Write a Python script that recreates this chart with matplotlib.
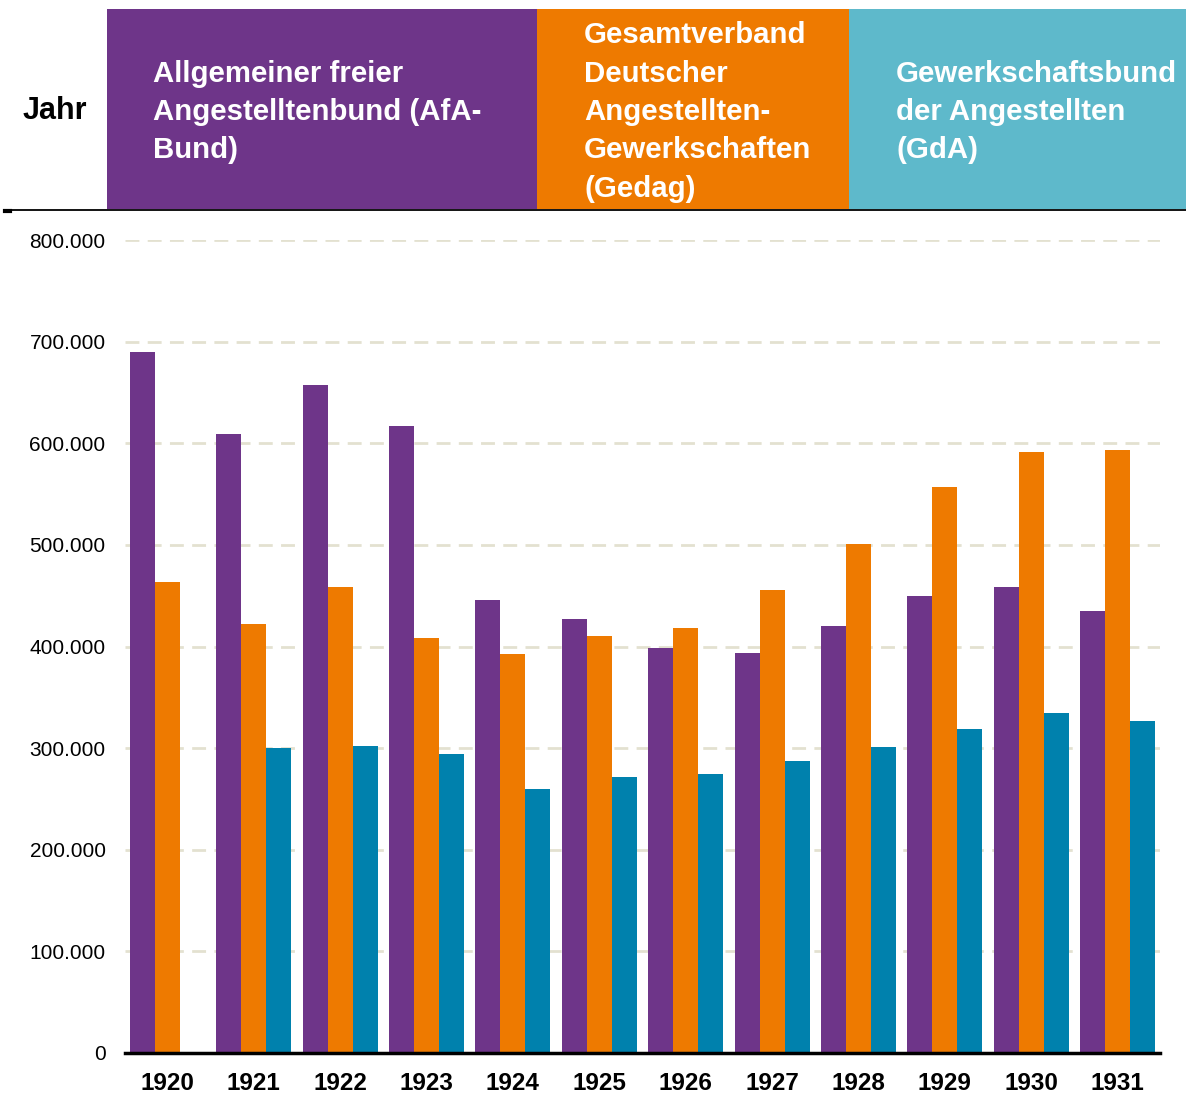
import matplotlib.pyplot as plt
import numpy as np
from matplotlib.patches import Rectangle
from matplotlib.ticker import FuncFormatter

plt.rcParams['font.family'] = ['Liberation Sans', 'DejaVu Sans']

# Mitgliederzahlen der Angestelltenverbände
jahre = ['1920', '1921', '1922', '1923', '1924', '1925', '1926', '1927', '1928', '1929', '1930', '1931']
afa = [690000, 609000, 657000, 617000, 446000, 427000, 399000, 394000, 420000, 450000, 459000, 435000]
gedag = [463000, 422000, 459000, 408000, 393000, 410000, 418000, 456000, 501000, 557000, 591000, 593000]
gda = [np.nan, 300000, 302000, 294000, 260000, 272000, 275000, 287000, 301000, 319000, 335000, 327000]

namen = ['Allgemeiner freier\nAngestelltenbund (AfA-\nBund)',
         'Gesamtverband\nDeutscher\nAngestellten-\nGewerkschaften\n(Gedag)',
         'Gewerkschaftsbund\nder Angestellten\n(GdA)']
farben = ['#6E3589', '#EE7A00', '#0081AD']
kopf_farben = ['#6E3589', '#EE7A00', '#5EB9CB']

fig = plt.figure(figsize=(11.86, 10.95), dpi=100)
W, H = 1186, 1095
ax = fig.add_axes([125 / W, 42 / H, 1035 / W, 813 / H])

x = np.arange(len(jahre))
bw = 0.29
for i, (werte, c) in enumerate(zip([afa, gedag, gda], farben)):
    ax.bar(x + (i - 1) * bw, werte, width=bw, color=c, zorder=3)

ax.set_xlim(-0.49, 11.49)
ax.set_ylim(0, 800000)
ax.set_yticks(np.arange(0, 800001, 100000))
ax.yaxis.set_major_formatter(FuncFormatter(lambda v, p: f'{int(v):,}'.replace(',', '.')))
ax.set_xticks(x)
ax.set_xticklabels(jahre, fontweight='bold')
ax.tick_params(axis='both', length=0, colors='black')
ax.tick_params(axis='y', pad=14, labelsize=15)
ax.tick_params(axis='x', pad=14, labelsize=17.5)
ax.grid(axis='y', color='#E3E1D0', linestyle=(0, (5, 3)), linewidth=2, zorder=0)
for s in ['left', 'right', 'top']:
    ax.spines[s].set_visible(False)
ax.spines['bottom'].set_linewidth(2.5)
ax.spines['bottom'].set_color('black')
ax.spines['bottom'].set_zorder(4)

# Kopfzeile
hx = fig.add_axes([0, 0, 1, 1], zorder=-1)
hx.set_xlim(0, W)
hx.set_ylim(H, 0)
hx.axis('off')
grenzen = [107, 537, 849, 1186]
text_x = [153, 584, 896]
for i in range(3):
    hx.add_patch(Rectangle((grenzen[i], 9), grenzen[i + 1] - grenzen[i], 200, color=kopf_farben[i], lw=0))
    hx.text(text_x[i], 112, namen[i], color='white', fontsize=21.2, fontweight='bold',
            va='center', ha='left', linespacing=1.47)
hx.text(23, 111, 'Jahr', fontsize=22, fontweight='bold', va='center', ha='left')
hx.plot([5, W], [209.5, 209.5], color='black', lw=1.3)
hx.plot([5, 10], [210.5, 210.5], color='black', lw=3)

fig.savefig('out.png', dpi=100)
